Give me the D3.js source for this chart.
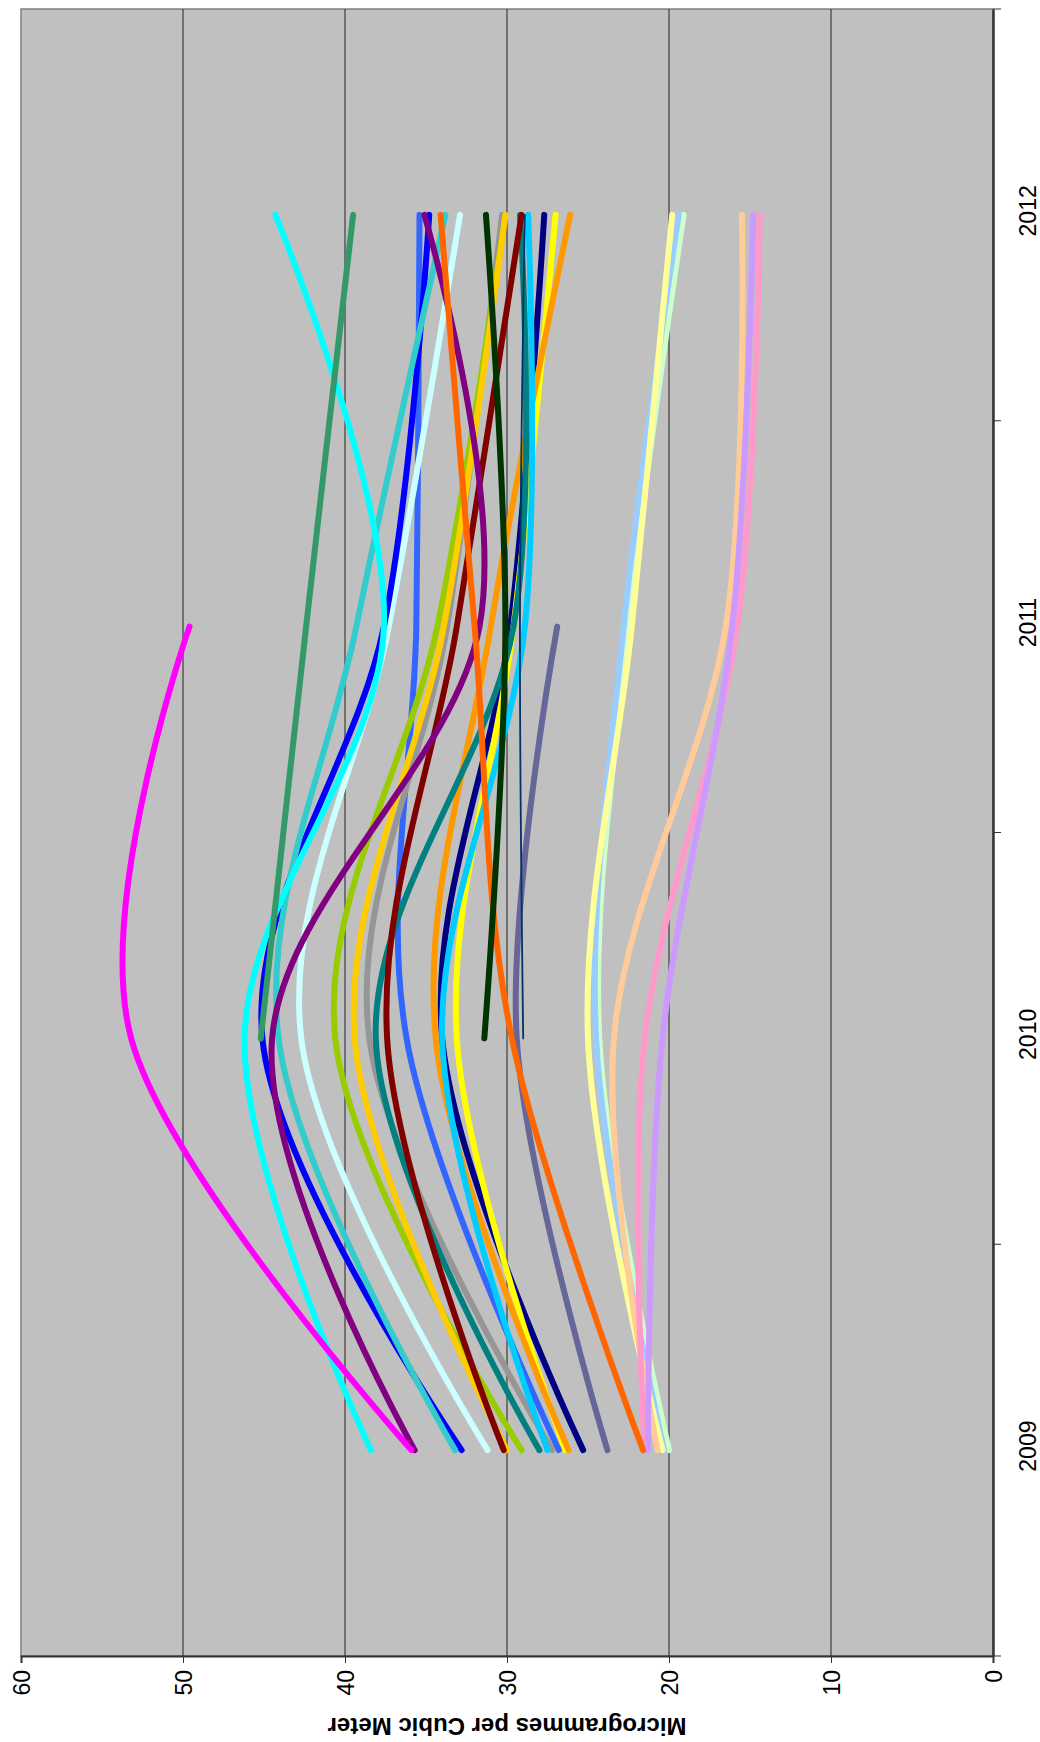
<!DOCTYPE html>
<html>
<head>
<meta charset="utf-8">
<script src="https://cdn.jsdelivr.net/npm/d3@7"></script>
<style>
  html, body { margin: 0; padding: 0; background: #ffffff; }
  svg { display: block; }
  text { font-family: "Liberation Sans", Arial, sans-serif; fill: #000; }
</style>
</head>
<body>
<svg id="chart" width="1040" height="1742"></svg>
<script>
// ---- data ----
const years = ["2009", "2010", "2011", "2012"];
const valueTicks = [0, 10, 20, 30, 40, 50, 60];
const axisTitle = "Microgrammes per Cubic Meter";

// values per year (2009, 2010, 2011, 2012); null = no value
const lightGreen  = [20.0, 24.3, 22.5, 19.1];
const lightBlue   = [20.3, 24.5, 22.8, 19.4];
const lightYellow = [20.4, 25.0, 22.3, 19.8];
const peach       = [20.7, 23.4, 16.5, 15.5];
const pink        = [21.5, 21.5, 15.8, 14.4];
const lavender    = [21.3, 20.4, 16.1, 14.8];
const slate       = [23.8, 29.4, 26.9, null];
const navy        = [25.3, 34.0, 29.8, 27.7];
const yellow      = [26.4, 33.1, 29.6, 27.0];
const orange      = [26.2, 34.4, 31.0, 26.1];
const royalBlue   = [26.8, 36.2, 35.6, 35.4];
const grey        = [27.2, 38.5, 33.7, 30.3];
const skyBlue     = [27.5, 34.0, 28.9, 28.7];
const teal        = [28.0, 38.1, 29.6, 29.2];
const yellowGreen = [29.1, 40.6, 34.3, 30.1];
const gold        = [30.0, 39.4, 33.9, 30.1];
const darkRed     = [30.2, 37.4, 33.1, 29.1];
const lightCyan   = [31.2, 42.7, 37.3, 32.9];
const blue        = [32.8, 45.1, 37.6, 34.8];
const turquoise   = [33.2, 44.1, 39.3, 33.8];
const purple      = [35.7, 44.5, 31.7, 35.1];
const cyan        = [38.4, 46.2, 37.6, 44.3];
const magenta     = [35.9, 53.2, 49.6, null];
const orangeRed   = [21.6, 29.7, 32.0, 34.1];
const darkGreen   = [null, 31.4, 30.1, 31.3];
const thinBlue    = [null, 29.0, 29.2, 28.9];
const seaGreen    = [null, 45.2, 42.4, 39.5];

const seriesList = [lightGreen, lightBlue, lightYellow, peach, pink, lavender, slate,
  navy, yellow, orange, royalBlue, grey, skyBlue, teal, yellowGreen, gold, darkRed,
  lightCyan, blue, turquoise, purple, cyan, magenta, orangeRed, darkGreen, thinBlue, seaGreen];

// ---- styles ----
const seriesColors = ["#CCFFCC", "#99CCFF", "#FFFF99", "#FFCC99", "#FF99CC", "#CC99FF", "#666699",
  "#000080", "#FFFF00", "#FF9900", "#3366FF", "#969696", "#00CCFF", "#008080", "#99CC00", "#FFCC00", "#800000",
  "#CCFFFF", "#0000FF", "#33CCCC", "#800080", "#00FFFF", "#FF00FF", "#FF6600", "#003300", "#003366", "#339966"];
const seriesWidths = seriesList.map((s, i) => i === 25 ? 1.8 : 6);

// ---- layout (view is the classic chart turned a quarter turn) ----
const plotLeft = 21, plotRight = 993, plotTop = 9, plotBottom = 1656;
const svg = d3.select("#chart");

const x = d3.scaleLinear().domain([60, 0]).range([plotLeft, plotRight]);
const yBand = d3.scaleBand().domain(years.slice().reverse()).range([plotTop, plotBottom]);
const yPos = yr => yBand(yr) + yBand.bandwidth() / 2;

// plot background
svg.append("rect")
  .attr("x", plotLeft).attr("y", plotTop)
  .attr("width", plotRight - plotLeft).attr("height", plotBottom - plotTop)
  .attr("fill", "#C0C0C0").attr("stroke", "#808080").attr("stroke-width", 1.5);

// gridlines
svg.append("g").selectAll("line")
  .data(valueTicks.filter(v => v > 0 && v < 60))
  .join("line")
  .attr("x1", d => x(d)).attr("x2", d => x(d))
  .attr("y1", plotTop).attr("y2", plotBottom)
  .attr("stroke", "#222222").attr("stroke-width", 1);

// value axis (bottom)
const vAxis = svg.append("g").attr("transform", `translate(0,${plotBottom})`)
  .call(d3.axisBottom(x).tickValues(valueTicks).tickSize(7).tickFormat(d3.format("d")));
vAxis.select(".domain").attr("stroke", "#333").attr("stroke-width", 2);
vAxis.selectAll(".tick line").attr("stroke", "#333");
vAxis.selectAll(".tick text")
  .attr("font-family", "Liberation Sans, Arial, sans-serif")
  .attr("font-size", 23).attr("fill", "#000")
  .attr("text-anchor", "end")
  .attr("dy", "0.35em")
  .attr("transform", "translate(0,14) rotate(-90)")
  .attr("x", 0).attr("y", 0);

// category axis (right)
const cAxis = svg.append("g").attr("transform", `translate(${plotRight},0)`)
  .call(d3.axisRight(yBand).tickSize(0).tickFormat(""));
cAxis.select(".domain").attr("stroke", "#333").attr("stroke-width", 2.5);
const bounds = years.map(yr => yBand(yr)).concat([plotBottom]);
svg.append("g").selectAll("line").data(bounds).join("line")
  .attr("x1", plotRight).attr("x2", plotRight + 8)
  .attr("y1", d => d).attr("y2", d => d)
  .attr("stroke", "#333").attr("stroke-width", 1);
svg.append("g").selectAll("text").data(years).join("text")
  .attr("transform", d => `translate(1028,${yPos(d) - 4}) rotate(-90)`)
  .attr("text-anchor", "middle").attr("dy", "0.35em")
  .attr("font-size", 23)
  .text(d => d);

// axis title (upside down)
svg.append("text")
  .attr("transform", `translate(${(plotLeft + plotRight) / 2},1726) rotate(180)`)
  .attr("text-anchor", "middle").attr("dy", "0.35em")
  .attr("font-size", 24).attr("font-weight", "bold")
  .text(axisTitle);

// lines
const line = d3.line()
  .defined(d => d.v !== null)
  .x(d => x(d.v))
  .y(d => yPos(d.year))
  .curve(d3.curveCardinal.tension(0));

svg.append("g").selectAll("path")
  .data(seriesList.map((vals, i) => ({ i, pts: vals.map((v, k) => ({ year: years[k], v })).filter(p => p.v !== null) })))
  .join("path")
  .attr("d", d => line(d.pts))
  .attr("fill", "none")
  .attr("stroke", d => seriesColors[d.i])
  .attr("stroke-width", d => seriesWidths[d.i])
  .attr("stroke-linecap", "round")
  .attr("stroke-linejoin", "round");
</script>
</body>
</html>
